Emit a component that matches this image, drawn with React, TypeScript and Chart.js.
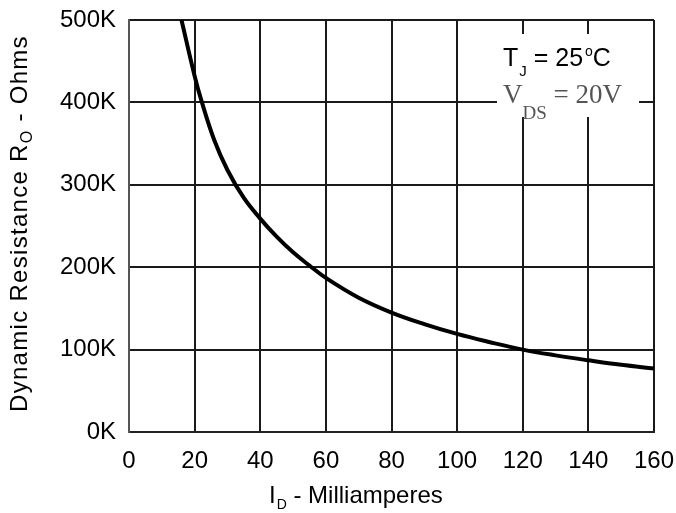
import React, { useEffect, useRef } from 'react';
import { Chart, registerables } from 'chart.js';

Chart.register(...registerables);

// Drain current I_D (mA) vs dynamic resistance R_O (kOhm)
const currentMA = [16, 20, 22, 26, 30, 35, 40, 45, 50, 55, 60, 70, 80, 90, 100, 110, 120, 130, 140, 150, 160];
const resistanceK = [500, 432, 403, 354, 318, 284, 259, 237, 218, 202, 187, 163, 145, 131, 119, 109, 100, 93, 87, 81.5, 77];

const xTickLabels = ['0', '20', '40', '60', '80', '100', '120', '140', '160'];
const yTickLabels = ['0K', '100K', '200K', '300K', '400K', '500K'];

const SANS = '"Liberation Sans", Arial, Helvetica, sans-serif';
const SERIF = '"Liberation Serif", "Times New Roman", Times, serif';

type Run = { text: string; font: string; dy?: number; color?: string; gap?: number };

function drawRuns(ctx: CanvasRenderingContext2D, x: number, y: number, runs: Run[]) {
  let cx = x;
  for (const r of runs) {
    cx += r.gap || 0;
    ctx.font = r.font;
    ctx.fillStyle = r.color || '#000';
    ctx.fillText(r.text, cx, y + (r.dy || 0));
    cx += ctx.measureText(r.text).width;
  }
}

const annotationPlugin = {
  id: 'annotations',
  beforeDatasetsDraw(chart: any) {
    const { ctx, chartArea } = chart;
    ctx.save();
    ctx.fillStyle = '#ffffff';
    ctx.fillRect(chartArea.right - 157, chartArea.top + 14, 142, 83);
    ctx.restore();
  },
  afterDraw(chart: any) {
    const { ctx, chartArea } = chart;
    ctx.save();
    ctx.textAlign = 'left';
    ctx.textBaseline = 'alphabetic';

    // T_J = 25°C
    const bx = chartArea.right - 151;
    drawRuns(ctx, bx, chartArea.top + 46, [
      { text: 'T', font: `25px ${SANS}` },
      { text: 'J', font: `15px ${SANS}`, dy: 10, gap: 1 },
      { text: ' = 25', font: `25px ${SANS}` },
      { text: 'o', font: `14px ${SANS}`, dy: -10, gap: 2 },
      { text: 'C', font: `25px ${SANS}`, gap: 0 },
    ]);

    // V_DS = 20V
    drawRuns(ctx, bx, chartArea.top + 83, [
      { text: 'V', font: `27px ${SERIF}`, color: '#555' },
      { text: 'DS', font: `19px ${SERIF}`, dy: 16, color: '#555' },
      { text: ' = 20V', font: `27px ${SERIF}`, color: '#555' },
    ]);

    // x-axis title
    drawRuns(ctx, 269, 503, [
      { text: 'I', font: `24px ${SANS}` },
      { text: 'D', font: `14px ${SANS}`, dy: 6, gap: 1 },
      { text: ' - Milliamperes', font: `24px ${SANS}` },
    ]);

    // y-axis title
    ctx.translate(27, 412);
    ctx.rotate(-Math.PI / 2);
    (ctx as any).letterSpacing = '1.3px';
    drawRuns(ctx, 0, 0, [
      { text: 'Dynamic Resistance R', font: `24px ${SANS}` },
      { text: 'O', font: `16px ${SANS}`, dy: 5 },
      { text: ' - Ohms', font: `24px ${SANS}` },
    ]);
    ctx.restore();
  },
};

export default function App() {
  const canvasRef = useRef<HTMLCanvasElement | null>(null);

  useEffect(() => {
    if (!canvasRef.current) return;
    const tickFont = { family: SANS, size: 24 };
    const chart = new Chart(canvasRef.current, {
      type: 'line',
      data: {
        datasets: [
          {
            data: currentMA.map((x, i) => ({ x, y: resistanceK[i] })),
            borderColor: '#000',
            borderWidth: 4,
            pointRadius: 0,
            fill: false,
            tension: 0.4,
          },
        ],
      },
      options: {
        animation: false,
        responsive: true,
        maintainAspectRatio: false,
        layout: { padding: { top: 20, right: 22, left: 0, bottom: 0 } },
        plugins: { legend: { display: false }, tooltip: { enabled: false } },
        scales: {
          x: {
            type: 'linear',
            min: 0,
            max: 160,
            ticks: {
              stepSize: 20,
              padding: 15,
              color: '#000',
              font: tickFont,
              maxRotation: 0,
              callback: (_v: any, i: number) => xTickLabels[i],
            },
            grid: { color: '#1a1a1a', lineWidth: 2, drawTicks: false },
            border: { color: '#222', width: 2 },
            afterFit: (s: any) => {
              s.height = 81;
              s.paddingLeft = 0;
              s.paddingRight = 0;
            },
          },
          y: {
            type: 'linear',
            min: 0,
            max: 500,
            ticks: {
              stepSize: 100,
              padding: 13,
              color: '#000',
              font: tickFont,
              callback: (_v: any, i: number) => yTickLabels[i],
            },
            grid: { color: '#1a1a1a', lineWidth: 2, drawTicks: false },
            border: { color: '#555', width: 2 },
            afterFit: (s: any) => {
              s.width = 129;
              s.paddingTop = 0;
              s.paddingBottom = 0;
            },
          },
        },
      } as any,
      plugins: [annotationPlugin],
    });
    return () => chart.destroy();
  }, []);

  return (
    <div style={{ position: 'absolute', left: 0, top: 0, width: 676, height: 513, background: '#fff' }}>
      <canvas ref={canvasRef} />
    </div>
  );
}
